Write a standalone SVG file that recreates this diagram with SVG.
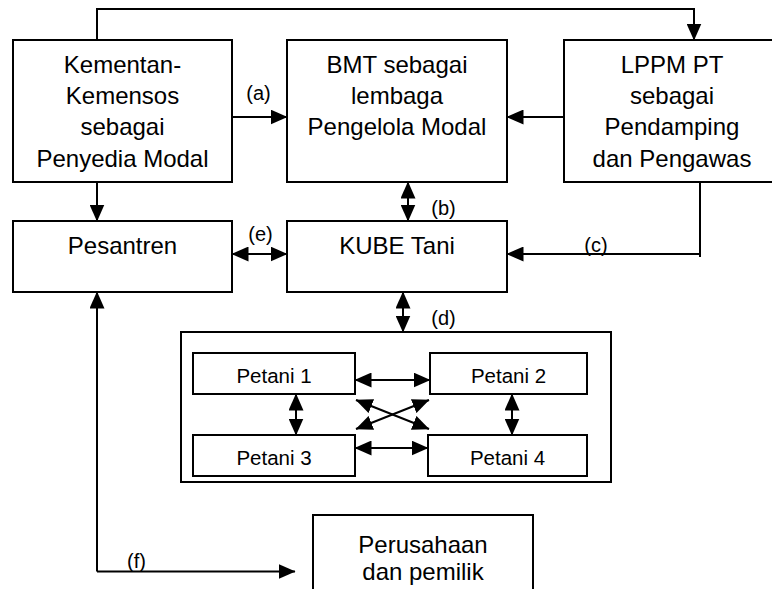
<svg xmlns="http://www.w3.org/2000/svg" width="772" height="589" viewBox="0 0 772 589">
<style>
.box{fill:#fff;stroke:#000;stroke-width:2}
.t{font-family:"Liberation Sans",Arial,sans-serif;font-size:24px;fill:#000;text-anchor:middle}
.s{font-family:"Liberation Sans",Arial,sans-serif;font-size:20.5px;fill:#000;text-anchor:middle}
.l{font-family:"Liberation Sans",Arial,sans-serif;font-size:20px;fill:#000;text-anchor:middle}
.c{fill:none;stroke:#000;stroke-width:2}
.a{marker-end:url(#ah)}
.d{marker-start:url(#ah);marker-end:url(#ah)}
</style>
<defs>
<marker id="ah" markerUnits="userSpaceOnUse" markerWidth="17" markerHeight="15" refX="16.5" refY="7.5" orient="auto-start-reverse" viewBox="0 0 17 15">
<path d="M0,0 L17,7.5 L0,15 z" fill="#000"/>
</marker>
</defs>
<rect width="772" height="589" fill="#fff"/>
<g id="kementan">
<rect class="box" x="13" y="40" width="219" height="142"/>
<text class="t" x="122.5" y="72.5">Kementan-</text>
<text class="t" x="122.5" y="104">Kemensos</text>
<text class="t" x="122.5" y="135">sebagai</text>
<text class="t" x="122.5" y="166.5">Penyedia Modal</text>
</g>
<g id="bmt">
<rect class="box" x="287" y="40" width="220" height="142"/>
<text class="t" x="397" y="72.5">BMT sebagai</text>
<text class="t" x="397" y="104">lembaga</text>
<text class="t" x="397" y="135">Pengelola Modal</text>
</g>
<g id="lppm">
<rect class="box" x="564" y="40" width="217" height="142"/>
<text class="t" x="672" y="72.5">LPPM PT</text>
<text class="t" x="672" y="104">sebagai</text>
<text class="t" x="672" y="135">Pendamping</text>
<text class="t" x="672" y="166.5">dan Pengawas</text>
</g>
<g id="pesantren">
<rect class="box" x="13" y="221" width="219" height="71"/>
<text class="t" x="122.5" y="253.5">Pesantren</text>
</g>
<g id="kube">
<rect class="box" x="287" y="221" width="220" height="71"/>
<text class="t" x="397" y="253.5">KUBE Tani</text>
</g>
<g id="petani-group">
<rect class="box" x="181" y="332" width="430" height="150"/>
</g>
<g id="petani1">
<rect class="box" x="193" y="353" width="162" height="41"/>
<text class="s" x="274" y="383">Petani 1</text>
</g>
<g id="petani2">
<rect class="box" x="430" y="353" width="157" height="41"/>
<text class="s" x="508.5" y="383">Petani 2</text>
</g>
<g id="petani3">
<rect class="box" x="193" y="435" width="162" height="41"/>
<text class="s" x="274" y="465">Petani 3</text>
</g>
<g id="petani4">
<rect class="box" x="428" y="435" width="159" height="41"/>
<text class="s" x="507.5" y="465">Petani 4</text>
</g>
<g id="perusahaan">
<rect class="box" x="313" y="515" width="220" height="90"/>
<text class="t" x="423" y="553">Perusahaan</text>
<text class="t" x="423" y="580">dan pemilik</text>
</g>
<g id="connectors">
<path class="c a" d="M97,40 V9 H694 V40"/>
<path class="c a" d="M232,117 H287"/>
<path class="c a" d="M564,117 H507"/>
<path class="c a" d="M97,182 V221"/>
<path class="c d" d="M408,182 V221"/>
<path class="c d" d="M232,254 H287"/>
<path class="c" d="M700,182 V257"/>
<path class="c a" d="M700,254 H507"/>
<path class="c d" d="M403,292 V332"/>
<path class="c d" d="M355,380 H430"/>
<path class="c d" d="M355,448 H428"/>
<path class="c d" d="M296,394 V435"/>
<path class="c d" d="M512,394 V435"/>
<path class="c d" d="M356,400 L429,429"/>
<path class="c d" d="M356,429 L429,400"/>
<path class="c" d="M97,292 V571.5"/>
<path class="c a" d="M97,300 V292"/>
<path class="c a" d="M97,571.5 H295"/>
<text class="l" x="258.5" y="100">(a)</text>
<text class="l" x="443.5" y="215">(b)</text>
<text class="l" x="596" y="251.5">(c)</text>
<text class="l" x="443.5" y="325">(d)</text>
<text class="l" x="260.5" y="241">(e)</text>
<text class="l" x="136.5" y="567.5">(f)</text>
</g>
</svg>
